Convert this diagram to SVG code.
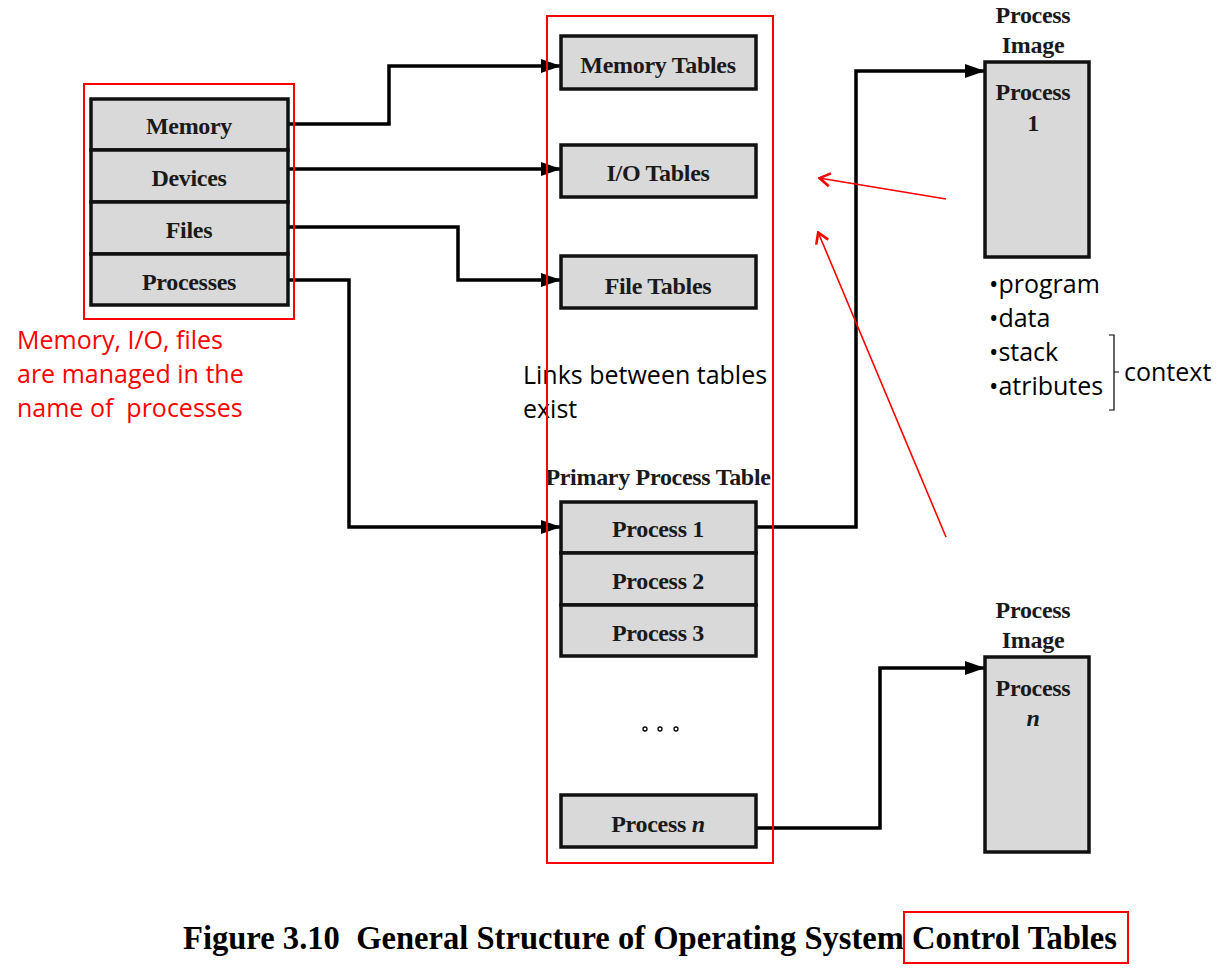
<svg xmlns="http://www.w3.org/2000/svg" width="1230" height="980" viewBox="0 0 1230 980">
<defs>
<marker id="ah" viewBox="0 0 20 14" refX="20" refY="7" markerWidth="20" markerHeight="14" markerUnits="userSpaceOnUse" orient="auto">
<path d="M0,0 L20,7 L0,14 z" fill="#000"/>
</marker>
<marker id="rh" viewBox="0 0 14 16" refX="1" refY="8" markerWidth="14" markerHeight="16" markerUnits="userSpaceOnUse" orient="auto">
<path d="M12,1.5 L1.5,8 L12,14.5" fill="none" stroke="#f00" stroke-width="2.6"/>
</marker>
<style>
.box{fill:#d9d9d9;stroke:#111;stroke-width:3.5}
.bl{font-family:"Liberation Serif",serif;font-weight:bold;font-size:24px;fill:#1a1a1a;text-anchor:middle;letter-spacing:-0.3px}
.conn{fill:none;stroke:#000;stroke-width:3.5;marker-end:url(#ah)}
.red{fill:none;stroke:#f00;stroke-width:2}
.rtxt{font-family:"Open Sans","Liberation Sans",sans-serif;font-size:25px;fill:#f00}
.ktxt{font-family:"Open Sans","Liberation Sans",sans-serif;font-size:25px;fill:#000}
.ra{stroke:#f00;stroke-width:1.6;fill:none;marker-start:url(#rh)}
</style>
</defs>
<rect width="1230" height="980" fill="#fff"/>

<g id="connectors">
<polyline class="conn" points="288,124 389,124 389,66 561,66"/>
<polyline class="conn" points="288,169 561,169"/>
<polyline class="conn" points="288,227 458,227 458,280 561,280"/>
<polyline class="conn" points="288,280 349,280 349,527 561,527"/>
<polyline class="conn" points="756,527 856,527 856,71 985,71"/>
<polyline class="conn" points="756,828 880,828 880,668 985,668"/>
</g>

<g id="resource-list">
<rect class="box" x="91" y="99" width="197" height="51"/>
<text class="bl" x="189" y="134">Memory</text>
<rect class="box" x="91" y="150" width="197" height="52"/>
<text class="bl" x="189" y="186">Devices</text>
<rect class="box" x="91" y="202" width="197" height="52"/>
<text class="bl" x="189" y="238">Files</text>
<rect class="box" x="91" y="254" width="197" height="51"/>
<text class="bl" x="189" y="290">Processes</text>
</g>
<g id="resource-highlight">
<rect class="red" x="84" y="84" width="210" height="235"/>
</g>
<g id="resource-note">
<text class="rtxt" x="17" y="349">Memory, I/O, files</text>
<text class="rtxt" x="17" y="383">are managed in the</text>
<text class="rtxt" x="17" y="417" xml:space="preserve">name of  processes</text>
</g>

<g id="memory-tables">
<rect class="box" x="561" y="36" width="195" height="53"/>
<text class="bl" x="658" y="73">Memory Tables</text>
</g>
<g id="io-tables">
<rect class="box" x="561" y="145" width="195" height="52"/>
<text class="bl" x="658" y="181">I/O Tables</text>
</g>
<g id="file-tables">
<rect class="box" x="561" y="256" width="195" height="52"/>
<text class="bl" x="658" y="294">File Tables</text>
</g>
<g id="links-note">
<text class="ktxt" x="523" y="384">Links between tables</text>
<text class="ktxt" x="523" y="418">exist</text>
</g>

<g id="primary-process-table">
<text class="bl" x="658" y="485">Primary Process Table</text>
<rect class="box" x="561" y="502" width="195" height="51"/>
<text class="bl" x="658" y="537">Process 1</text>
<rect class="box" x="561" y="553" width="195" height="52"/>
<text class="bl" x="658" y="589">Process 2</text>
<rect class="box" x="561" y="605" width="195" height="51"/>
<text class="bl" x="658" y="641">Process 3</text>
<circle cx="645" cy="729" r="2" fill="none" stroke="#000" stroke-width="1.3"/>
<circle cx="660" cy="729" r="2" fill="none" stroke="#000" stroke-width="1.3"/>
<circle cx="676" cy="729" r="2" fill="none" stroke="#000" stroke-width="1.3"/>
<rect class="box" x="561" y="795" width="195" height="52"/>
<text class="bl" x="658" y="832">Process <tspan font-style="italic">n</tspan></text>
</g>
<g id="tables-highlight">
<rect class="red" x="547" y="16" width="226" height="847"/>
</g>

<g id="process-image-1">
<text class="bl" x="1033" y="23">Process</text>
<text class="bl" x="1033" y="53">Image</text>
<rect class="box" x="985" y="62" width="104" height="195"/>
<text class="bl" x="1033" y="100">Process</text>
<text class="bl" x="1033" y="131">1</text>
</g>
<g id="image-contents">
<text class="ktxt" x="989" y="293">•program</text>
<text class="ktxt" x="989" y="327">•data</text>
<text class="ktxt" x="989" y="361">•stack</text>
<text class="ktxt" x="989" y="395">•atributes</text>
<path d="M1109,335 H1114 V410 H1109 M1114,372 H1119" fill="none" stroke="#000" stroke-width="1.2"/>
<text class="ktxt" x="1124" y="381">context</text>
</g>

<g id="process-image-n">
<text class="bl" x="1033" y="618">Process</text>
<text class="bl" x="1033" y="648">Image</text>
<rect class="box" x="985" y="657" width="104" height="195"/>
<text class="bl" x="1033" y="696">Process</text>
<text class="bl" x="1033" y="726" font-style="italic">n</text>
</g>

<g id="red-arrows">
<line class="ra" x1="819" y1="178" x2="946" y2="199"/>
<line class="ra" x1="818" y1="232" x2="946" y2="537"/>
</g>

<g id="caption">
<text x="183" y="949" font-family="Liberation Serif,serif" font-weight="bold" font-size="33" fill="#000" textLength="934" lengthAdjust="spacingAndGlyphs" xml:space="preserve">Figure 3.10  General Structure of Operating System Control Tables</text>
<rect class="red" x="904" y="912" width="224" height="51"/>
</g>
</svg>
